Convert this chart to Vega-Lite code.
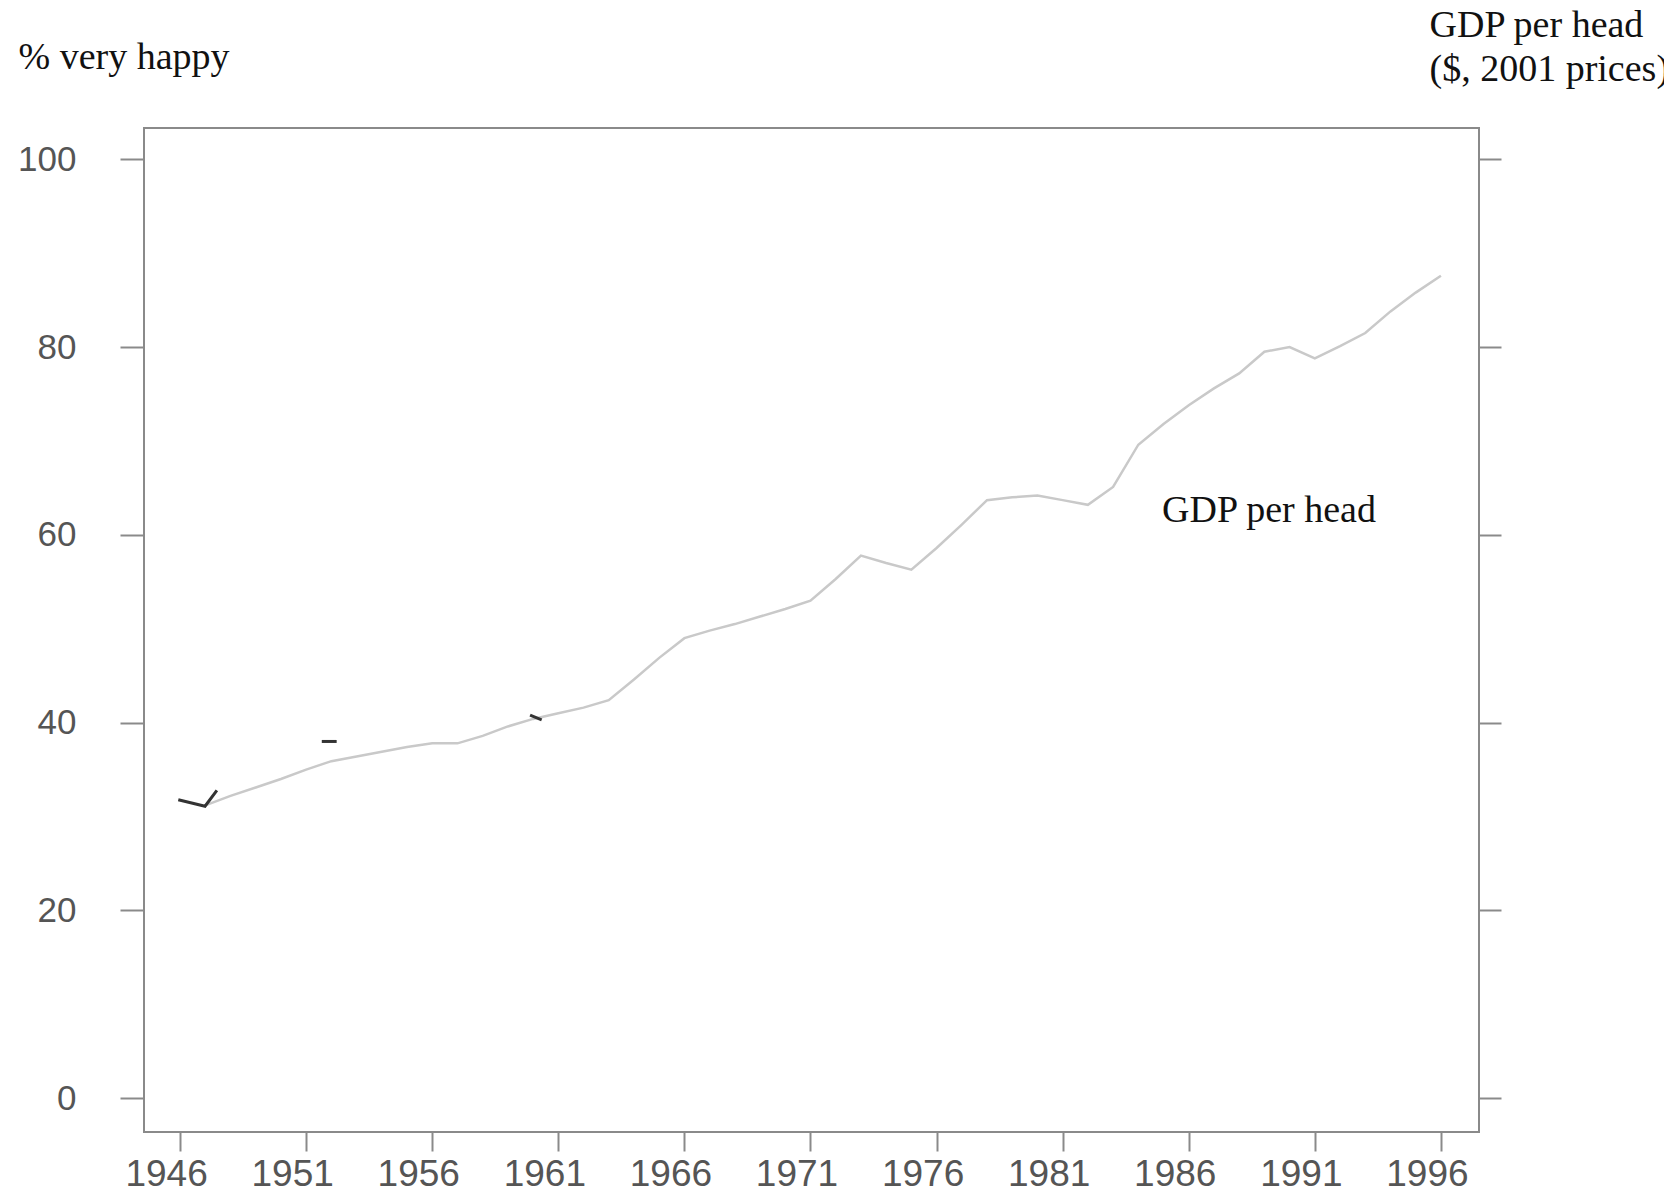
{
  "$schema": "https://vega.github.io/schema/vega-lite/v6.json",
  "autosize": "none",
  "width": 1335,
  "height": 1004,
  "padding": {"left": 144, "top": 128, "right": 185, "bottom": 62},
  "background": "white",
  "config": {
    "view": {"stroke": "#8a8a8a", "strokeWidth": 2},
    "axis": {"grid": false, "domain": false, "tickColor": "#8a8a8a", "tickWidth": 2, "labelColor": "#555555", "labelFont": "Liberation Sans", "titleFont": "Liberation Serif", "titleFontWeight": "normal", "titleColor": "#111111"}
  },
  "datasets": {
    "gdp": [
      {"year": 1947, "value": 31.2}, {"year": 1948, "value": 32.2}, {"year": 1949, "value": 33.1},
      {"year": 1950, "value": 34.0}, {"year": 1951, "value": 35.0}, {"year": 1952, "value": 35.9},
      {"year": 1953, "value": 36.4}, {"year": 1954, "value": 36.9}, {"year": 1955, "value": 37.4},
      {"year": 1956, "value": 37.8}, {"year": 1957, "value": 37.8}, {"year": 1958, "value": 38.6},
      {"year": 1959, "value": 39.6}, {"year": 1960, "value": 40.4}, {"year": 1961, "value": 41.0},
      {"year": 1962, "value": 41.6}, {"year": 1963, "value": 42.4}, {"year": 1964, "value": 44.6},
      {"year": 1965, "value": 46.9}, {"year": 1966, "value": 49.0}, {"year": 1967, "value": 49.8},
      {"year": 1968, "value": 50.5}, {"year": 1969, "value": 51.3}, {"year": 1970, "value": 52.1},
      {"year": 1971, "value": 53.0}, {"year": 1972, "value": 55.3}, {"year": 1973, "value": 57.8},
      {"year": 1974, "value": 57.0}, {"year": 1975, "value": 56.3}, {"year": 1976, "value": 58.6},
      {"year": 1977, "value": 61.1}, {"year": 1978, "value": 63.7}, {"year": 1979, "value": 64.0},
      {"year": 1980, "value": 64.2}, {"year": 1981, "value": 63.7}, {"year": 1982, "value": 63.2},
      {"year": 1983, "value": 65.1}, {"year": 1984, "value": 69.6}, {"year": 1985, "value": 71.8},
      {"year": 1986, "value": 73.8}, {"year": 1987, "value": 75.6}, {"year": 1988, "value": 77.2},
      {"year": 1989, "value": 79.5}, {"year": 1990, "value": 80.0}, {"year": 1991, "value": 78.8},
      {"year": 1992, "value": 80.1}, {"year": 1993, "value": 81.5}, {"year": 1994, "value": 83.8},
      {"year": 1995, "value": 85.8}, {"year": 1996, "value": 87.6}
    ],
    "happy": [
      {"seg": "a", "year": 1945.93, "value": 31.8}, {"seg": "a", "year": 1946.99, "value": 31.1}, {"seg": "a", "year": 1947.46, "value": 32.8},
      {"seg": "b", "year": 1951.62, "value": 38.0}, {"seg": "b", "year": 1952.21, "value": 38.0},
      {"seg": "c", "year": 1959.88, "value": 40.8}, {"seg": "c", "year": 1960.34, "value": 40.3}
    ]
  },
  "resolve": {"scale": {"y": "independent"}},
  "layer": [
    {
      "data": {"name": "gdp"},
      "mark": {"type": "line", "color": "#c9c9c9", "strokeWidth": 2.5},
      "encoding": {
        "x": {"field": "year", "type": "quantitative", "scale": {"domain": [1944.57, 1997.51], "nice": false, "zero": false},
          "axis": {"orient": "bottom", "values": [1946, 1951, 1956, 1961, 1966, 1971, 1976, 1981, 1986, 1991, 1996], "format": "d", "title": null, "tickSize": 19, "labelPadding": 5, "labelFontSize": 37, "labelOffset": -14, "labelBaseline": "top"}},
        "y": {"field": "value", "type": "quantitative", "scale": {"domain": [-3.59, 103.33], "nice": false, "zero": false},
          "axis": {"orient": "left", "values": [0, 20, 40, 60, 80, 100], "tickSize": 24, "labelPadding": 44, "labelFontSize": 35,
            "title": "% very happy", "titleAngle": 0, "titleAlign": "left", "titleBaseline": "alphabetic", "titleX": -126, "titleY": -60, "titleFontSize": 38}}
      }
    },
    {
      "data": {"name": "happy"},
      "mark": {"type": "line", "color": "#333333", "strokeWidth": 3},
      "encoding": {
        "x": {"field": "year", "type": "quantitative"},
        "y": {"field": "value", "type": "quantitative", "scale": {"domain": [-3.59, 103.33], "nice": false, "zero": false},
          "axis": {"orient": "right", "values": [0, 20, 40, 60, 80, 100], "tickSize": 22, "labels": false,
            "title": ["GDP per head", "($, 2001 prices)"], "titleAngle": 0, "titleAlign": "left", "titleBaseline": "alphabetic", "titleX": -50, "titleY": -92, "titleFontSize": 38, "titleLineHeight": 44}},
        "detail": {"field": "seg", "type": "nominal"}
      }
    },
    {
      "data": {"values": [{"label": "GDP per head"}]},
      "mark": {"type": "text", "font": "Liberation Serif", "fontSize": 38, "color": "#111111", "align": "left", "baseline": "alphabetic"},
      "encoding": {
        "x": {"datum": 1984.94, "type": "quantitative"},
        "y": {"datum": 61.4, "type": "quantitative", "scale": {"domain": [-3.59, 103.33], "nice": false, "zero": false}, "axis": null},
        "text": {"field": "label", "type": "nominal"}
      }
    }
  ]
}
